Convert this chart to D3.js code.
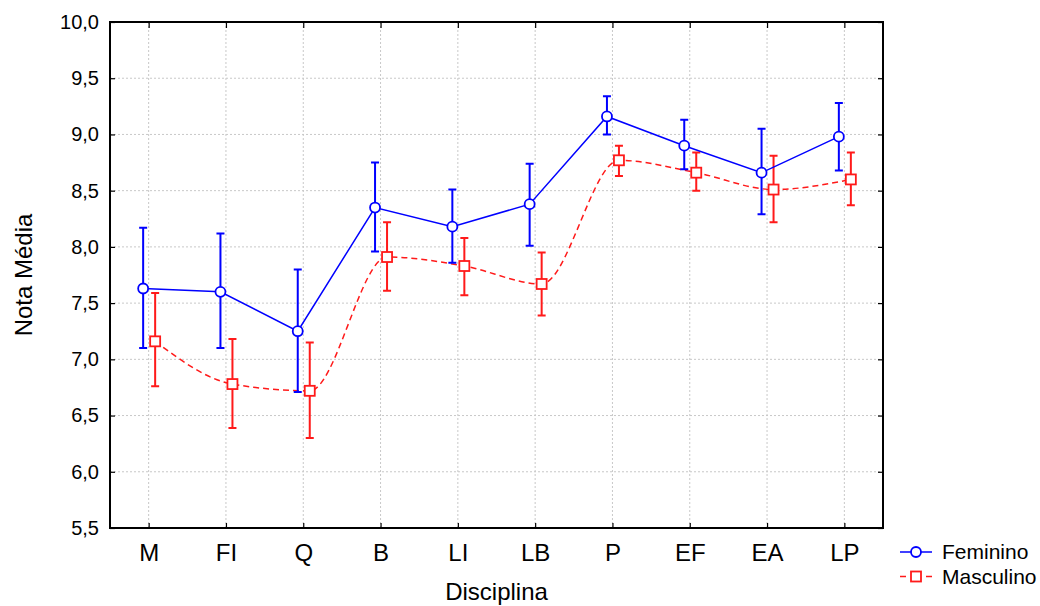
<!DOCTYPE html>
<html>
<head>
<meta charset="utf-8">
<script src="https://cdn.jsdelivr.net/npm/d3@7"></script>
<style>
  body { margin: 0; background: #fff; }
  text { font-family: "Liberation Sans", Arial, sans-serif; fill: #000; }
</style>
</head>
<body>
<div id="grafico"></div>
<script>
// médias por disciplina e sexo, com limites do intervalo
const disciplinas = ["M", "FI", "Q", "B", "LI", "LB", "P", "EF", "EA", "LP"];
const femMedia = [7.63, 7.60, 7.25, 8.35, 8.18, 8.38, 9.16, 8.90, 8.66, 8.98];
const femSup   = [8.17, 8.12, 7.80, 8.75, 8.51, 8.74, 9.34, 9.13, 9.05, 9.28];
const femInf   = [7.10, 7.10, 6.71, 7.96, 7.86, 8.01, 9.00, 8.69, 8.29, 8.68];
const mascMedia = [7.16, 6.78, 6.72, 7.91, 7.83, 7.67, 8.77, 8.66, 8.51, 8.60];
const mascSup   = [7.59, 7.18, 7.15, 8.22, 8.08, 7.95, 8.90, 8.84, 8.81, 8.84];
const mascInf   = [6.76, 6.39, 6.30, 7.61, 7.57, 7.39, 8.63, 8.50, 8.22, 8.37];
const yTicks = [5.5, 6.0, 6.5, 7.0, 7.5, 8.0, 8.5, 9.0, 9.5, 10.0];
const series = ["Feminino", "Masculino"];

const width = 1040, height = 606;
const pLeft = 110, pRight = 883, pTop = 22, pBottom = 528;

const svg = d3.select("#grafico")
    .append("svg")
    .attr("width", width)
    .attr("height", height);

const x = d3.scalePoint()
    .domain(disciplinas)
    .range([pLeft, pRight])
    .padding(0.5);

const y = d3.scaleLinear()
    .domain([5.5, 10])
    .range([pBottom, pTop]);

const fmt = v => d3.format(".1f")(v).replace(".", ",");

// grade pontilhada
svg.append("g").selectAll("line")
    .data(yTicks.slice(1, -1))
    .enter().append("line")
    .attr("x1", pLeft).attr("x2", pRight)
    .attr("y1", d => y(d)).attr("y2", d => y(d))
    .attr("stroke", "#c8c8c8")
    .attr("stroke-dasharray", "2,2");

svg.append("g").selectAll("line")
    .data(disciplinas)
    .enter().append("line")
    .attr("x1", d => x(d)).attr("x2", d => x(d))
    .attr("y1", pTop).attr("y2", pBottom)
    .attr("stroke", "#c8c8c8")
    .attr("stroke-dasharray", "2,2");

// eixos
const axY = svg.append("g")
    .attr("transform", `translate(${pLeft},0)`)
    .call(d3.axisLeft(y).tickValues(yTicks).tickFormat(fmt).tickSizeInner(-5).tickSizeOuter(0).tickPadding(11));
axY.selectAll("text").style("font-size", "20px");

const axX = svg.append("g")
    .attr("transform", `translate(0,${pBottom})`)
    .call(d3.axisBottom(x).tickSizeInner(-5).tickSizeOuter(0).tickPadding(16));
axX.selectAll("text").style("font-size", "24px");

svg.append("g")
    .attr("transform", `translate(0,${pTop})`)
    .call(d3.axisTop(x).tickSizeInner(-6).tickSizeOuter(0).tickFormat(""));

svg.append("g")
    .attr("transform", `translate(${pRight},0)`)
    .call(d3.axisRight(y).tickValues(yTicks).tickSizeInner(-5).tickSizeOuter(0).tickFormat(""));

svg.selectAll(".domain").remove();
svg.selectAll(".tick line").attr("stroke", "#000").attr("stroke-width", 1.2);

svg.append("rect")
    .attr("x", pLeft).attr("y", pTop)
    .attr("width", pRight - pLeft).attr("height", pBottom - pTop)
    .attr("fill", "none")
    .attr("stroke", "#000")
    .attr("stroke-width", 2);

// séries
const cor = {Feminino: "#0000ff", Masculino: "#ff1a1a"};
const desloc = {Feminino: -5.5, Masculino: 6.5};

function desenhaSerie(nome, medias, sup, inf) {
    const pts = disciplinas.map((d, i) => ({d, m: medias[i], s: sup[i], n: inf[i]}));
    const px = p => x(p.d) + desloc[nome];
    const g = svg.append("g");

    const linha = d3.line()
        .x(px)
        .y(p => y(p.m))
        .curve(nome === "Masculino" ? d3.curveMonotoneX : d3.curveLinear);

    g.append("path")
        .datum(pts)
        .attr("d", linha)
        .attr("fill", "none")
        .attr("stroke", cor[nome])
        .attr("stroke-width", 1.5)
        .attr("stroke-dasharray", nome === "Masculino" ? "6,4" : null);

    // barras de erro
    g.selectAll(".barra")
        .data(pts)
        .enter().append("path")
        .attr("d", p => `M${px(p)},${y(p.s)}V${y(p.n)}M${px(p) - 4},${y(p.s)}h8M${px(p) - 4},${y(p.n)}h8`)
        .attr("fill", "none")
        .attr("stroke", cor[nome])
        .attr("stroke-width", 2);

    if (nome === "Feminino") {
        g.selectAll("circle")
            .data(pts)
            .enter().append("circle")
            .attr("cx", px)
            .attr("cy", p => y(p.m))
            .attr("r", 5)
            .attr("fill", "#fff")
            .attr("stroke", cor[nome])
            .attr("stroke-width", 1.8);
    } else {
        g.selectAll("rect")
            .data(pts)
            .enter().append("rect")
            .attr("x", p => px(p) - 5)
            .attr("y", p => y(p.m) - 5)
            .attr("width", 10)
            .attr("height", 10)
            .attr("fill", "#fff")
            .attr("stroke", cor[nome])
            .attr("stroke-width", 1.8);
    }
}

desenhaSerie("Masculino", mascMedia, mascSup, mascInf);
desenhaSerie("Feminino", femMedia, femSup, femInf);

// legenda
const leg = svg.append("g").selectAll("g")
    .data(series)
    .enter().append("g")
    .attr("transform", (d, i) => `translate(900,${552 + i * 24.5})`);

leg.append("line")
    .attr("x1", 0).attr("x2", 32)
    .attr("stroke", d => cor[d])
    .attr("stroke-width", 1.5)
    .attr("stroke-dasharray", d => d === "Masculino" ? "6,20,6" : null);

leg.filter(d => d === "Feminino").append("circle")
    .attr("cx", 16).attr("r", 5)
    .attr("fill", "#fff").attr("stroke", d => cor[d]).attr("stroke-width", 1.8);

leg.filter(d => d === "Masculino").append("rect")
    .attr("x", 11).attr("y", -5).attr("width", 10).attr("height", 10)
    .attr("fill", "#fff").attr("stroke", d => cor[d]).attr("stroke-width", 1.8);

leg.append("text")
    .attr("x", 42)
    .attr("dy", "0.35em")
    .style("font-size", "21px")
    .text(d => d);

// títulos dos eixos
svg.append("text")
    .attr("x", (pLeft + pRight) / 2)
    .attr("y", 600)
    .attr("text-anchor", "middle")
    .style("font-size", "24px")
    .text("Disciplina");

svg.append("text")
    .attr("x", -(pTop + pBottom) / 2)
    .attr("y", 32)
    .attr("transform", "rotate(-90)")
    .attr("text-anchor", "middle")
    .style("font-size", "24px")
    .text("Nota Média");
</script>
</body>
</html>
